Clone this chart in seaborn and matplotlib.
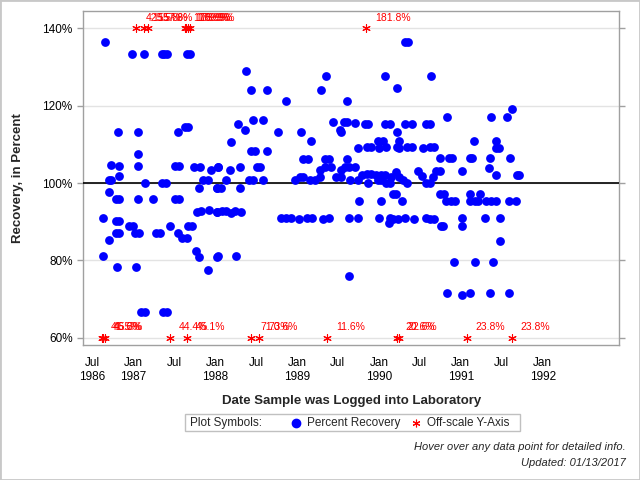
import matplotlib
matplotlib.use("Agg")
import matplotlib.pyplot as plt
import seaborn as sns
import pandas as pd
from matplotlib.lines import Line2D
from matplotlib.patches import Rectangle
from matplotlib.ticker import FuncFormatter

# ---- data: sample log date (decimal year, Jul = .5) and percent recovery ----
recovery_dates = [
    1986.66, 1986.99, 1987.14, 1987.35, 1987.38, 1987.41, 1987.66, 1987.70,
    1986.82, 1987.06, 1987.55, 1987.63, 1987.67, 1987.06, 1986.73, 1986.83,
    1987.06, 1987.51, 1987.56, 1987.74, 1987.82, 1987.95, 1988.04, 1986.71,
    1986.73, 1986.83, 1987.15, 1987.35, 1987.40, 1987.86, 1987.91, 1987.80,
    1988.02, 1986.71, 1986.79, 1986.83, 1987.06, 1987.25, 1987.51, 1987.56,
    1987.78, 1987.83, 1987.93, 1988.02, 1986.63, 1986.79, 1986.83, 1986.95,
    1987.00, 1987.455, 1987.67, 1987.72, 1986.79, 1986.83, 1987.03, 1987.07,
    1987.28, 1987.33, 1987.55, 1987.60, 1987.66, 1986.71, 1987.77, 1987.80,
    1988.02, 1986.64, 1986.80, 1987.04, 1987.91, 1987.10, 1987.15, 1987.37,
    1987.41,
    1988.38, 1988.44, 1988.63, 1988.87, 1989.30, 1989.35, 1989.61, 1988.28,
    1988.46, 1988.59, 1988.37, 1988.20, 1988.77, 1989.05, 1989.17, 1989.44,
    1989.57, 1989.61, 1989.52, 1989.54, 1988.44, 1988.49, 1988.63, 1988.04,
    1988.18, 1988.31, 1988.51, 1988.55, 1988.14, 1988.41, 1988.47, 1988.59,
    1988.02, 1988.07, 1988.31, 1989.08, 1989.14, 1989.34, 1989.39, 1989.61,
    1989.34, 1989.42, 1989.54, 1989.59, 1989.63, 1989.28, 1988.98, 1989.04,
    1989.08, 1989.16, 1989.22, 1989.28, 1989.48, 1989.54, 1989.65, 1988.02,
    1988.08, 1988.14, 1988.20, 1988.24, 1988.32, 1988.81, 1988.87, 1988.93,
    1989.02, 1989.12, 1989.19, 1989.32, 1989.39, 1989.63, 1988.04, 1988.26,
    1989.63,
    1990.32, 1990.36, 1990.08, 1990.64, 1990.22, 1990.83, 1989.71, 1989.83,
    1989.87, 1990.07, 1990.13, 1990.32, 1990.40, 1990.57, 1990.63, 1990.22,
    1989.99, 1990.05, 1990.24, 1991.16, 1989.75, 1989.85, 1989.90, 1990.00,
    1990.09, 1990.22, 1990.24, 1990.34, 1990.40, 1990.54, 1990.62, 1990.67,
    1990.75, 1990.85, 1990.89, 1991.11, 1991.14, 1989.71, 1991.01, 1990.48,
    1990.53, 1990.70, 1990.74, 1990.66, 1989.75, 1989.79, 1989.85, 1989.90,
    1989.97, 1990.02, 1990.07, 1989.99, 1990.03, 1990.15, 1990.21, 1990.24,
    1990.30, 1990.34, 1989.87, 1990.09, 1990.13, 1990.58, 1990.63, 1990.17,
    1990.21, 1990.75, 1990.80, 1991.11, 1991.24, 1989.76, 1990.03, 1990.28,
    1990.82, 1990.88, 1990.93, 1991.11, 1991.17, 1991.21, 1989.74, 1990.00,
    1990.13, 1990.17, 1990.23, 1990.12, 1990.32, 1990.43, 1990.58, 1990.63,
    1990.67, 1990.76, 1990.78, 1991.02, 1991.02, 1990.92, 1991.17, 1990.83,
    1991.02, 1991.11,
    1991.62, 1991.37, 1991.56, 1991.43, 1991.43, 1991.46, 1991.35, 1991.60,
    1991.34, 1991.43, 1991.68, 1991.71, 1991.31, 1991.37, 1991.43, 1991.59,
    1991.67, 1991.29, 1991.48, 1991.48, 1991.39, 1991.35, 1991.59,
]
recovery_pct = [
    136.4, 133.3, 133.3, 133.3, 133.3, 133.3, 133.3, 133.3,
    113.1, 113.1, 113.1, 114.4, 114.4, 107.4, 104.6, 104.3,
    104.3, 104.3, 104.3, 104.1, 104.1, 103.4, 104.1, 100.9,
    100.9, 101.7, 99.9, 99.9, 99.9, 100.7, 100.7, 98.6,
    98.6, 97.6, 95.8, 95.8, 95.8, 95.8, 95.8, 95.8,
    92.6, 92.8, 92.9, 92.6, 90.9, 90.3, 90.3, 88.8,
    88.8, 88.8, 88.8, 88.8, 87.0, 87.0, 87.0, 87.0,
    87.0, 87.0, 87.0, 85.7, 85.7, 85.2, 82.4, 80.9,
    80.9, 81.0, 78.2, 78.2, 77.4, 66.6, 66.6, 66.6,
    66.6,
    128.9, 124.0, 124.0, 121.1, 124.0, 127.6, 121.1, 115.2,
    116.2, 116.2, 113.6, 110.5, 113.1, 113.1, 111.0, 115.7,
    115.9, 115.9, 113.6, 113.1, 108.4, 108.4, 108.4, 104.1,
    103.4, 104.1, 104.1, 104.1, 100.7, 100.7, 100.7, 100.7,
    98.6, 98.6, 98.6, 106.1, 106.1, 106.1, 106.1, 106.1,
    104.2, 104.2, 103.4, 104.2, 104.2, 103.4, 100.9, 101.6,
    101.6, 100.9, 100.9, 101.6, 101.6, 101.6, 100.9, 92.6,
    92.8, 92.8, 92.2, 92.8, 92.6, 90.9, 90.9, 90.9,
    90.6, 90.9, 90.9, 90.6, 90.9, 90.9, 81.0, 81.0,
    75.9,
    136.4, 136.4, 127.8, 127.8, 124.5, 117.2, 115.6, 115.2,
    115.2, 115.2, 115.2, 115.2, 115.2, 115.2, 115.2, 113.1,
    111.0, 111.0, 111.0, 111.0, 109.0, 109.2, 109.2, 109.0,
    109.2, 109.2, 109.0, 109.2, 109.2, 109.0, 109.2, 109.2,
    106.6, 106.4, 106.4, 106.4, 106.4, 104.1, 103.0, 103.0,
    101.9, 103.0, 103.0, 101.6, 100.9, 102.0, 102.3, 102.3,
    102.0, 102.0, 102.0, 100.9, 100.8, 101.6, 102.9, 101.6,
    100.9, 99.9, 99.9, 99.9, 99.9, 99.9, 99.9, 97.1,
    97.1, 97.1, 97.1, 97.1, 97.1, 95.3, 95.3, 95.3,
    95.3, 95.3, 95.3, 95.3, 95.3, 95.3, 90.9, 90.9,
    90.9, 90.6, 90.6, 89.6, 90.9, 90.6, 90.9, 90.6,
    90.6, 88.8, 88.8, 90.9, 88.8, 79.5, 79.5, 71.5,
    71.0, 71.5,
    119.1, 117.2, 117.2, 111.0, 109.0, 109.0, 106.4, 106.4,
    103.8, 102.0, 102.0, 102.0, 95.3, 95.3, 95.3, 95.3,
    95.3, 90.9, 90.9, 84.9, 79.5, 71.5, 71.5,
]

# off-scale samples (drawn at the axis limits, labelled with true value)
high_dates = [1987.04, 1987.13, 1987.18, 1987.63, 1987.65, 1987.67, 1987.70, 1989.84]
high_labels = ["425.5%", "155.8%", "157.8%", "176.9%", "178.9%", "179.9%", "169.9%", "181.8%"]
low_dates = [1986.62, 1986.64, 1986.66, 1987.45, 1987.66, 1988.44, 1988.54,
             1989.37, 1990.22, 1990.24, 1991.07, 1991.62]
low_labels = ["41.5%", "46.6%", "45.3%", "44.4%", "45.1%", "71.3%", "70.6%",
              "11.6%", "20.6%", "22.6%", "23.8%", "23.8%"]
high_level = 140
low_level = 60

x_tick_pos = [1986.5, 1987.0, 1987.5, 1988.0, 1988.5, 1989.0, 1989.5,
              1990.0, 1990.5, 1991.0, 1991.5, 1992.0]
x_tick_labels = ["Jul\n1986", "Jan\n1987", "Jul", "Jan\n1988", "Jul", "Jan\n1989", "Jul",
                 "Jan\n1990", "Jul", "Jan\n1991", "Jul", "Jan\n1992"]
y_ticks = [60, 80, 100, 120, 140]

sns.set_theme(style="white")
plt.rcParams['font.family'] = ['Liberation Sans', 'DejaVu Sans']

W, H = 640, 480
fig = plt.figure(figsize=(6.4, 4.8), dpi=100)
ax = fig.add_axes([83 / W, 1 - 345 / H, (619 - 83) / W, (345 - 11) / H])

BLUE = "#0000FF"
RED = "#FF0000"
GRAY = "#A0A0A0"
star = (6, 2, 0)

df = pd.DataFrame({"date": recovery_dates, "pct": recovery_pct})
sns.scatterplot(data=df, x="date", y="pct", color=BLUE, s=40, linewidth=0, ax=ax, zorder=4)

hi = pd.DataFrame({"date": high_dates, "pct": [high_level] * len(high_dates)})
lo = pd.DataFrame({"date": low_dates, "pct": [low_level] * len(low_dates)})
for d in (hi, lo):
    sns.scatterplot(data=d, x="date", y="pct", marker=star, color=RED, edgecolor=RED,
                    s=30, linewidth=0.8, ax=ax, zorder=5)
for x, lab in zip(high_dates, high_labels):
    ax.annotate(lab, (x, high_level), xytext=(6.5, 7.5), textcoords="offset points",
                color=RED, fontsize=7.5, ha="left", va="center", zorder=6)
for x, lab in zip(low_dates, low_labels):
    ax.annotate(lab, (x, low_level), xytext=(6.5, 7.5), textcoords="offset points",
                color=RED, fontsize=7.5, ha="left", va="center", zorder=6)

ax.axhline(100, color="black", lw=1.2, zorder=3)
ax.set_xlim(1986.39, 1992.93)
ax.set_ylim(58.1, 144.5)
ax.set_yticks(y_ticks)
ax.yaxis.set_major_formatter(FuncFormatter(lambda v, p: f"{int(v)}%"))
ax.set_xticks(x_tick_pos)
ax.set_xticklabels(x_tick_labels, linespacing=1.15)
ax.yaxis.grid(True, color="#E3E3E3", lw=1)
ax.set_axisbelow(True)
ax.set_xlabel("")
ax.set_ylabel("")
for s in ax.spines.values():
    s.set_color(GRAY)
    s.set_linewidth(1)
ax.tick_params(axis="both", direction="out", color=GRAY, width=1, labelsize=8.5,
               labelcolor="black")
ax.tick_params(axis="x", length=6, pad=3)
ax.tick_params(axis="y", length=4.5, pad=3, right=True, left=True, labelright=False)

fig.text(18 / W, 1 - 178 / H, "Recovery, in Percent", rotation=90, ha="center", va="center",
         fontsize=9.5, fontweight="bold")
fig.text(352 / W, 1 - 401 / H, "Date Sample was Logged into Laboratory", ha="center",
         va="center", fontsize=9.5, fontweight="bold")

# legend box
fig.add_artist(Rectangle((185 / W, 1 - 431 / H), 335 / W, 17 / H, transform=fig.transFigure,
                         fill=False, edgecolor="#C0C0C0", lw=1))
ly = 1 - 423 / H
fig.text(190 / W, ly, "Plot Symbols:", ha="left", va="center", fontsize=8.5)
fig.add_artist(Line2D([296 / W], [ly], transform=fig.transFigure, marker="o", ms=6,
                      color=BLUE, lw=0))
fig.text(307 / W, ly, "Percent Recovery", ha="left", va="center", fontsize=8.5)
fig.add_artist(Line2D([416 / W], [ly], transform=fig.transFigure, marker=star, ms=5.5,
                      mew=0.8, color=RED, lw=0))
fig.text(427 / W, ly, "Off-scale Y-Axis", ha="left", va="center", fontsize=8.5)

fig.text(626 / W, 1 - 447 / H, "Hover over any data point for detailed info.", ha="right",
         va="center", fontsize=8, style="italic")
fig.text(626 / W, 1 - 463 / H, "Updated: 01/13/2017", ha="right", va="center", fontsize=8,
         style="italic")

fig.add_artist(Rectangle((0, 0), 1, 1, transform=fig.transFigure, fill=False,
                         edgecolor="#C8C8C8", lw=2))

fig.savefig("out.png", dpi=100)
